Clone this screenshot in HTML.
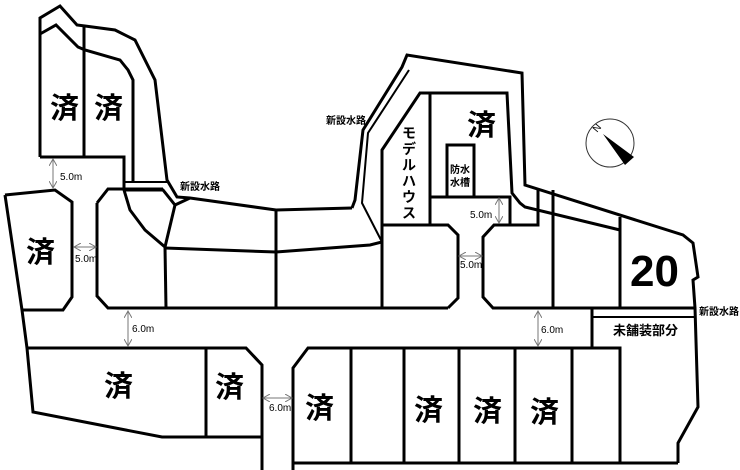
<!DOCTYPE html>
<html><head><meta charset="utf-8"><style>
html,body{margin:0;padding:0;background:#fff;}
svg{display:block;}
text{font-family:"Liberation Sans","Noto Sans CJK JP",sans-serif;fill:#000;}
.s{font-size:29px;font-weight:bold;}
.w{font-size:10px;font-weight:bold;}
.m{font-size:10px;}
</style></head><body>
<svg width="740" height="470" viewBox="0 0 740 470" xmlns="http://www.w3.org/2000/svg">
<defs>
<marker id="a" markerWidth="8" markerHeight="8" refX="7" refY="4" orient="auto-start-reverse" markerUnits="userSpaceOnUse"><path d="M0,0 L7,4 L0,8" fill="none" stroke="#777" stroke-width="1"/></marker>
</defs>
<g fill="none" stroke="#000" stroke-width="3" stroke-linejoin="miter">
<!-- top-left -->
<polyline points="40,157 40,18 60,6 77,25 85,26 115,30 135,40 155,80 167,180 177,197 190,198 276,210 352,208"/>
<polyline points="40,34 56,25 78,47 85,50 120,60 128,70 133,80 133,182"/>
<line x1="84" y1="26" x2="84" y2="157"/>
<polyline points="40,157 124,157 124,190"/>
<line x1="124" y1="182" x2="167" y2="182" stroke-width="2"/>
<polyline points="124,190 163,190 175,205 190,198"/>
<polyline points="5,195 55,190 72,202 72,297 63,310 22,310"/>
<polyline points="5,195 22,310 27,348 33,412 162,437 262,437"/>
<polyline points="97,203 108,189 163,189"/>
<polyline points="97,203 97,296 108,308 448,308"/>
<polyline points="124,190 130,210 145,230 165,247 175,205"/>
<line x1="165" y1="247" x2="166" y2="308"/>
<polyline points="165,248 276,252 370,245 382,242"/>
<line x1="276" y1="210" x2="276" y2="308"/>
<!-- channel middle -->
<polyline points="352,208 355,200 363,130 402,67 407,55 522,73 525,185 683,235 693,243 698,277 693,280 695,308 698,407 678,443 678,463"/>
<polyline points="409,70 368,133 362,203 382,242" stroke-width="2"/>
<polyline points="382,225 382,150 420,93 507,93 512,193 520,203 525,207 620,230"/>
<line x1="430" y1="93" x2="430" y2="225"/>
<polyline points="474,196 474,145 447,145 447,196"/>
<line x1="447" y1="196" x2="474" y2="196" stroke-width="1"/>
<polyline points="430,197 510,197 510,225"/>
<polyline points="382,225 448,225 458,235 458,298 448,308"/>
<line x1="382" y1="225" x2="382" y2="308"/>
<polyline points="538,188 538,225 494,225 483,237 483,297 493,308 695,308"/>
<line x1="553" y1="190" x2="553" y2="308"/>
<line x1="620" y1="217" x2="620" y2="308"/>
<line x1="592" y1="308" x2="592" y2="348"/>
<line x1="592" y1="317" x2="695" y2="317" stroke-width="2"/>
<!-- lower -->
<polyline points="27,348 246,348 262,365 262,470"/>
<line x1="206" y1="348" x2="206" y2="437"/>
<polyline points="293,470 293,368 308,348 620,348 620,463 678,463"/>
<line x1="293" y1="463" x2="620" y2="463"/>
<line x1="351" y1="348" x2="351" y2="463"/>
<line x1="404" y1="348" x2="404" y2="463"/>
<line x1="459" y1="348" x2="459" y2="463"/>
<line x1="515" y1="348" x2="515" y2="463"/>
<line x1="572" y1="348" x2="572" y2="463"/>
</g>
<!-- dimension arrows -->
<g stroke="#777" stroke-width="1" fill="none">
<line x1="53" y1="159" x2="53" y2="188" marker-start="url(#a)" marker-end="url(#a)"/>
<line x1="74" y1="247" x2="96" y2="247" marker-start="url(#a)" marker-end="url(#a)"/>
<line x1="128" y1="311" x2="128" y2="346" marker-start="url(#a)" marker-end="url(#a)"/>
<line x1="538" y1="311" x2="538" y2="346" marker-start="url(#a)" marker-end="url(#a)"/>
<line x1="499" y1="198" x2="499" y2="223" marker-start="url(#a)" marker-end="url(#a)"/>
<line x1="459" y1="256" x2="482" y2="256" marker-start="url(#a)" marker-end="url(#a)"/>
<line x1="263" y1="398" x2="292" y2="398" marker-start="url(#a)" marker-end="url(#a)"/>
</g>
<!-- compass -->
<circle cx="610" cy="143" r="24" fill="none" stroke="#333" stroke-width="1"/>
<polygon points="603,134 634,157 625,165" fill="#000"/>
<text x="593" y="132" font-size="10" transform="rotate(-50 596 128)">N</text>
<!-- labels -->
<text class="s" x="50" y="118">済</text>
<text class="s" x="94" y="118">済</text>
<text class="s" x="26" y="262">済</text>
<text class="s" x="104" y="396">済</text>
<text class="s" x="215" y="397">済</text>
<text class="s" x="305" y="418">済</text>
<text class="s" x="414" y="420">済</text>
<text class="s" x="473" y="421">済</text>
<text class="s" x="530" y="422">済</text>
<text class="s" x="467" y="135">済</text>
<text x="630" y="286" font-size="44" font-weight="bold">20</text>
<g font-size="14" font-weight="bold">
<text x="402" y="138">モ</text><text x="402" y="154">デ</text><text x="402" y="170">ル</text><text x="402" y="186">ハ</text><text x="402" y="202">ウ</text><text x="402" y="218">ス</text>
</g>
<text class="w" x="450" y="173">防水</text>
<text class="w" x="450" y="186">水槽</text>
<text class="w" x="326" y="124">新設水路</text>
<text class="w" x="180" y="190">新設水路</text>
<text class="w" x="699" y="315">新設水路</text>
<text x="613" y="335" font-size="13" font-weight="bold">未舗装部分</text>
<text class="m" x="60" y="180">5.0m</text>
<text class="m" x="75" y="262">5.0m</text>
<text class="m" x="470" y="218">5.0m</text>
<text class="m" x="460" y="268">5.0m</text>
<text class="m" x="132" y="332">6.0m</text>
<text class="m" x="541" y="333">6.0m</text>
<text class="m" x="269" y="411">6.0m</text>
</svg>
</body></html>
